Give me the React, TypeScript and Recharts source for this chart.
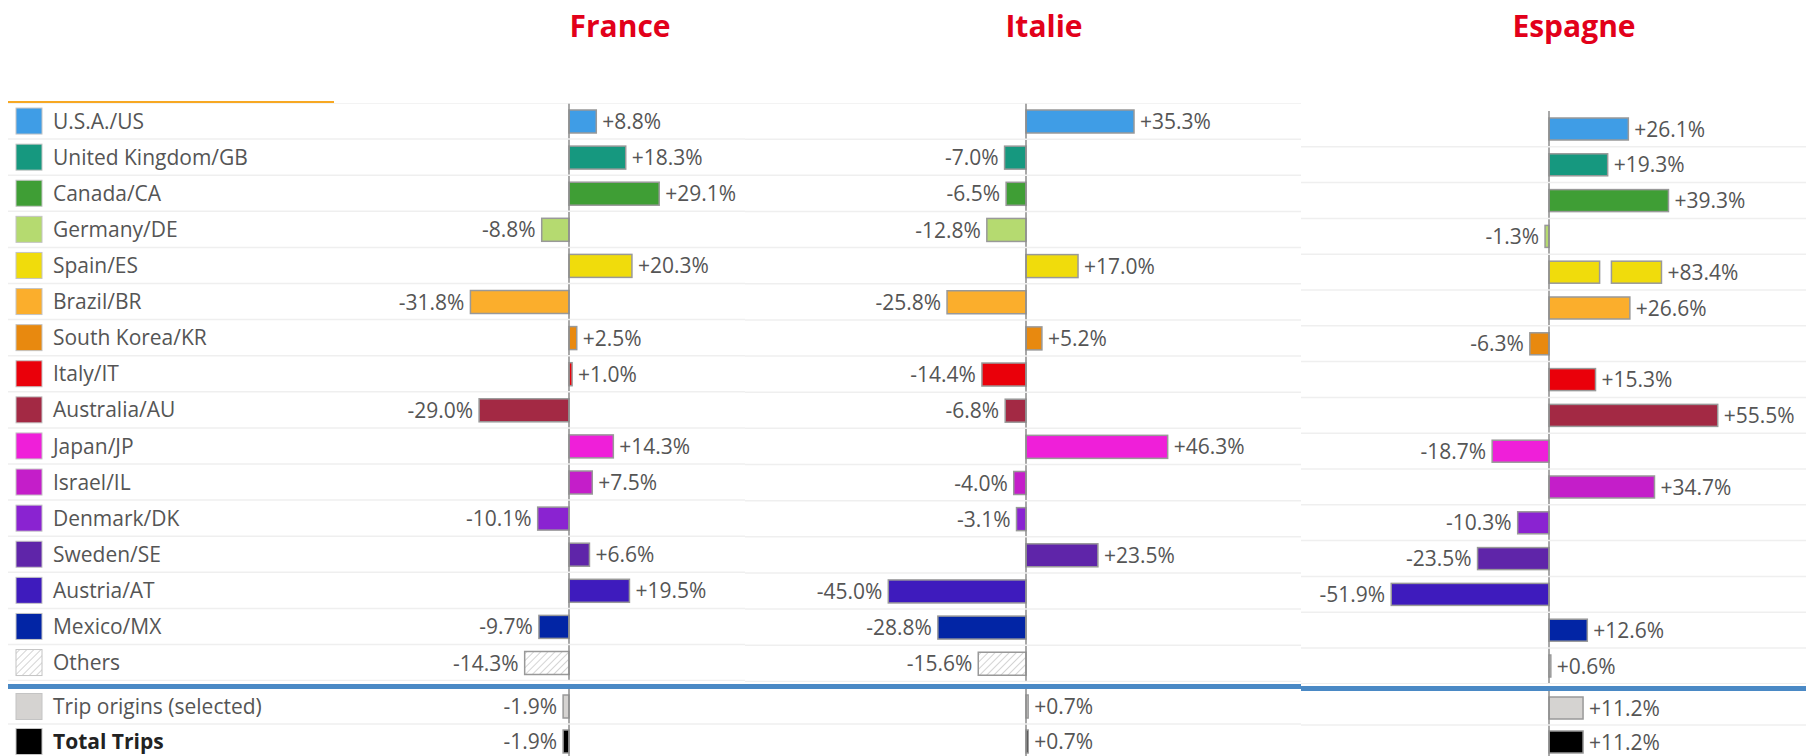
import React from 'react';
import { BarChart, Bar, XAxis, YAxis, ReferenceLine, Cell, LabelList } from 'recharts';

const categories = [
  'U.S.A./US', 'United Kingdom/GB', 'Canada/CA', 'Germany/DE', 'Spain/ES', 'Brazil/BR',
  'South Korea/KR', 'Italy/IT', 'Australia/AU', 'Japan/JP', 'Israel/IL', 'Denmark/DK',
  'Sweden/SE', 'Austria/AT', 'Mexico/MX', 'Others',
];
const franceValues = [8.8, 18.3, 29.1, -8.8, 20.3, -31.8, 2.5, 1.0, -29.0, 14.3, 7.5, -10.1, 6.6, 19.5, -9.7, -14.3];
const italieValues = [35.3, -7.0, -6.5, -12.8, 17.0, -25.8, 5.2, -14.4, -6.8, 46.3, -4.0, -3.1, 23.5, -45.0, -28.8, -15.6];
const espagneValues = [26.1, 19.3, 39.3, -1.3, 83.4, 26.6, -6.3, 15.3, 55.5, -18.7, 34.7, -10.3, -23.5, -51.9, 12.6, 0.6];

const totalLabels = ['Trip origins (selected)', 'Total Trips'];
const franceTotals = [-1.9, -1.9];
const italieTotals = [0.7, 0.7];
const espagneTotals = [11.2, 11.2];

const panelTitles = ['France', 'Italie', 'Espagne'];

const categoryColors = [
  '#3f9de6', '#16987f', '#3f9e35', '#b5da70', '#f0dc0c', '#fbae2c', '#e8890f', '#ea000a',
  '#a32944', '#ef1fd9', '#c41ec9', '#8a23d1', '#5f25a9', '#3e1bbd', '#0225a5', 'url(#hatch)',
];
const totalColors = ['#d5d3d1', '#000000'];

// layout of the three screenshots
const PANELS = [
  { left: 0, right: 745, zeroX: 569, ppp: 3.1, domain: [-50, 50], titleX: 620, topFirst: 121, topPitch: 36.1, botFirst: 706, botPitch: 35, barSize: 23, topLine: true },
  { left: 745, right: 1301, zeroX: 1026, ppp: 3.06, domain: [-60, 60], titleX: 1044, topFirst: 121.5, topPitch: 36.15, botFirst: 706, botPitch: 35, barSize: 23, topLine: true },
  { left: 1301, right: 1831, zeroX: 1549, ppp: 3.04, domain: [-60, 90], titleX: 1574, topFirst: 129, topPitch: 35.8, botFirst: 708, botPitch: 34, barSize: 22, topLine: false },
];

const FONT = '"Open Sans", "DejaVu Sans", sans-serif';
const STROKE = '#999';
const BREAK_FROM = 60; // bars longer than this get a cut
const BREAK_SHOWN = 37;

const shownWidth = (value: number, w: number) =>
  Math.abs(value) > BREAK_FROM ? (w * BREAK_SHOWN) / Math.abs(value) : w;

const BarShape = (props: any) => {
  const { x, y, width, height, fill, payload } = props;
  const left = Math.min(x, x + width);
  const w = Math.abs(width);
  const v = payload.value;
  if (Math.abs(v) > BREAK_FROM) {
    const shown = shownWidth(v, w);
    const first = shown * 0.45;
    const gap = shown * 0.105;
    return (
      <g>
        <rect x={left} y={y} width={first} height={height} fill={fill} stroke={STROKE} strokeWidth={1.5} />
        <rect x={left + first + gap} y={y} width={shown - first - gap} height={height} fill={fill} stroke={STROKE} strokeWidth={1.5} />
      </g>
    );
  }
  return <rect x={left} y={y} width={Math.max(w, 1)} height={height} fill={fill} stroke={STROKE} strokeWidth={1.5} />;
};

const renderLabel = (props: any) => {
  const vb = props.viewBox && props.viewBox.height !== undefined ? props.viewBox : props;
  const { x, y, width, height } = vb;
  const raw = Array.isArray(props.value) ? props.value[1] : Number(props.value);
  const left = Math.min(x, x + width);
  const right = left + shownWidth(raw, Math.abs(width));
  const txt = (raw > 0 ? '+' : '') + raw.toFixed(1) + '%';
  const pos = raw >= 0;
  return (
    <text
      x={pos ? right + 6 : left - 6}
      y={y + height / 2}
      dy="0.36em"
      textAnchor={pos ? 'start' : 'end'}
      fontSize={21}
      fontFamily={FONT}
      fill="#555"
    >
      {txt}
    </text>
  );
};

const rowTick = (opts: { width: number; pitch: number; legend: boolean; topLine: boolean; from: number }) =>
  (props: any) => {
    const { y, payload, index } = props;
    const name = payload.value as string;
    const ci = categories.indexOf(name);
    const color = ci >= 0 ? categoryColors[ci] : totalColors[totalLabels.indexOf(name)];
    const bold = name === 'Total Trips';
    return (
      <g>
        {index === 0 && opts.topLine && (
          <line x1={opts.from} x2={opts.width} y1={y - opts.pitch / 2} y2={y - opts.pitch / 2} stroke="#efefef" strokeWidth={1.5} />
        )}
        <line x1={opts.from} x2={opts.width} y1={y + opts.pitch / 2} y2={y + opts.pitch / 2} stroke="#efefef" strokeWidth={1.5} />
        {opts.legend && (
          <g>
            <rect x={16} y={y - 13} width={26} height={26} fill={color} stroke="#c4c4c4" strokeWidth={1} />
            <text x={53} y={y} dy="0.36em" fontSize={21} fontFamily={FONT} fill={bold ? '#222' : '#555'} fontWeight={bold ? 700 : 400}>
              {name}
            </text>
          </g>
        )}
      </g>
    );
  };

type Row = { name: string; value: number };

function Panel({ idx, rows, totals }: { idx: number; rows: Row[]; totals: Row[] }) {
  const cfg = PANELS[idx];
  const plotL = cfg.zeroX + cfg.domain[0] * cfg.ppp;
  const plotR = cfg.zeroX + cfg.domain[1] * cfg.ppp;
  const width = cfg.right - cfg.left;
  const yAxisWidth = plotL - cfg.left;
  const marginRight = cfg.right - plotR;

  const chart = (data: Row[], fills: string[], first: number, pitch: number, topLine: boolean, key: string) => {
    const top = first - pitch / 2;
    const height = data.length * pitch;
    return (
      <div key={key} style={{ position: 'absolute', left: cfg.left, top, width, height }}>
        <BarChart
          width={width}
          height={height}
          data={data}
          layout="vertical"
          margin={{ top: 0, right: marginRight, bottom: 0, left: 0 }}
        >
          <XAxis type="number" domain={cfg.domain} hide />
          <YAxis
            type="category"
            dataKey="name"
            width={yAxisWidth}
            interval={0}
            axisLine={false}
            tickLine={false}
            tick={rowTick({ width, pitch, legend: idx === 0, topLine, from: idx === 0 ? 8 : 0 })}
          />
          <ReferenceLine x={0} stroke="#8c8c8c" strokeWidth={1.5} />
          <Bar dataKey="value" barSize={cfg.barSize} isAnimationActive={false} shape={BarShape}>
            {data.map((d, i) => (
              <Cell key={d.name} fill={fills[i]} />
            ))}
            <LabelList dataKey="value" content={renderLabel} />
          </Bar>
        </BarChart>
      </div>
    );
  };

  return (
    <>
      {chart(rows, categoryColors, cfg.topFirst, cfg.topPitch, cfg.topLine, 'top')}
      {chart(totals, totalColors, cfg.botFirst, cfg.botPitch, false, 'bottom')}
    </>
  );
}

const build = (names: string[], values: number[]): Row[] => names.map((name, i) => ({ name, value: values[i] }));

export default function App() {
  const panels = [
    { rows: build(categories, franceValues), totals: build(totalLabels, franceTotals) },
    { rows: build(categories, italieValues), totals: build(totalLabels, italieTotals) },
    { rows: build(categories, espagneValues), totals: build(totalLabels, espagneTotals) },
  ];
  return (
    <div
      style={{
        position: 'absolute',
        left: 0,
        top: 0,
        width: 1806,
        height: 756,
        overflow: 'hidden',
        background: '#fff',
        fontFamily: FONT,
      }}
    >
      <svg width={0} height={0} style={{ position: 'absolute' }}>
        <defs>
          <pattern id="hatch" width="5" height="5" patternUnits="userSpaceOnUse" patternTransform="rotate(45)">
            <rect width="5" height="5" fill="#fff" />
            <line x1="0" y1="0" x2="0" y2="5" stroke="#c6c6c6" strokeWidth="1.5" />
          </pattern>
        </defs>
      </svg>
      <svg width={1806} height={60} style={{ position: 'absolute', left: 0, top: 0 }}>
        {panelTitles.map((t, i) => (
          <text key={t} x={PANELS[i].titleX} y={37} textAnchor="middle" fontSize={30} fontWeight={700} fontFamily={FONT} fill="#e2001a">
            {t}
          </text>
        ))}
      </svg>
      {panels.map((p, i) => (
        <Panel key={i} idx={i} rows={p.rows} totals={p.totals} />
      ))}
      <div style={{ position: 'absolute', left: 8, top: 101, width: 326, height: 2, background: '#f7a823' }} />
      <div style={{ position: 'absolute', left: 8, top: 684, width: 1293, height: 5, background: '#4a89c5' }} />
      <div style={{ position: 'absolute', left: 1301, top: 686, width: 505, height: 5, background: '#4a89c5' }} />
    </div>
  );
}
